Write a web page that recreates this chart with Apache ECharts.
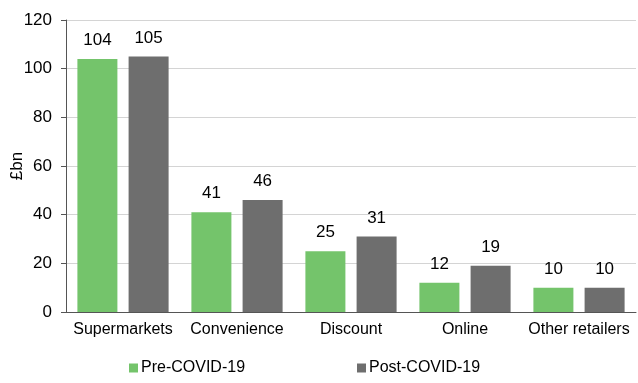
<!DOCTYPE html>
<html>
<head>
<meta charset="utf-8">
<script src="https://cdn.jsdelivr.net/npm/echarts@6/dist/echarts.min.js"></script>
<style>
html, body { margin: 0; padding: 0; background: #fff; }
#chart { width: 638px; height: 383px; }
</style>
</head>
<body>
<div id="chart"></div>
<script>
var categories = ['Supermarkets', 'Convenience', 'Discount', 'Online', 'Other retailers']
var pre_covid = [104, 41, 25, 12, 10]
var post_covid = [105, 46, 31, 19, 10]

var font = '"Liberation Sans", Arial, sans-serif'

var option = {
    animation: false,
    textStyle: { fontFamily: font },
    grid: {
        left: 66,
        right: 2,
        top: 20,
        bottom: 71,
        outerBoundsMode: 'none',
        containLabel: false,
    },
    legend: {
        bottom: 2,
        left: 124,
        itemGap: 112,
        itemWidth: 9,
        itemHeight: 9,
        icon: 'rect',
        textStyle: { fontSize: 16, color: '#000', fontFamily: font, padding: [0, 0, 0, -2] },
        data: ['Pre-COVID-19', 'Post-COVID-19'],
    },
    xAxis: {
        type: 'category',
        data: categories,
        axisLine: { lineStyle: { color: '#555', width: 1 } },
        axisTick: { alignWithLabel: false, length: 6, lineStyle: { color: '#555' } },
        axisLabel: { color: '#000', fontSize: 16, margin: 10, fontFamily: font, interval: 0 },
    },
    yAxis: {
        type: 'value',
        min: 0,
        max: 120,
        interval: 20,
        name: '£bn',
        nameLocation: 'middle',
        nameGap: 40,
        nameMoveOverlap: false,
        nameRotate: 90,
        nameTextStyle: { color: '#000', fontSize: 17, fontFamily: font },
        axisLine: { show: true, lineStyle: { color: '#555' } },
        axisTick: { show: true, length: 5, lineStyle: { color: '#555' } },
        axisLabel: { color: '#000', fontSize: 17, margin: 14, fontFamily: font },
        splitLine: { lineStyle: { color: '#d4d4d4' } },
    },
    series: [
        {
            name: 'Pre-COVID-19',
            type: 'bar',
            data: pre_covid,
            barWidth: 40,
            barGap: '28%',
            itemStyle: { color: '#74c46b' },
            label: { show: true, position: 'top', distance: 10, color: '#000', fontSize: 17, fontFamily: font },
        },
        {
            name: 'Post-COVID-19',
            type: 'bar',
            data: post_covid,
            barWidth: 40,
            barGap: '28%',
            itemStyle: { color: '#6e6e6e' },
            label: { show: true, position: 'top', distance: 10, color: '#000', fontSize: 17, fontFamily: font },
        },
    ],
}

var myChart = echarts.init(document.getElementById('chart'))
myChart.setOption(option, true)
</script>
</body>
</html>
